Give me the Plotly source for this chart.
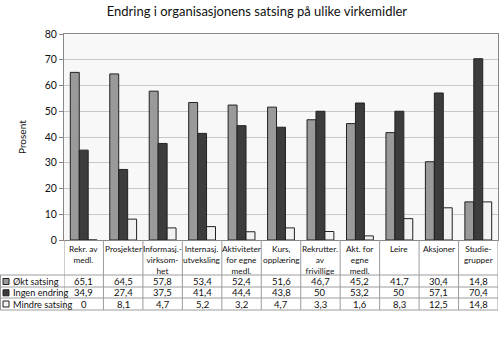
import plotly.graph_objects as go

categories = ["Rekr. av<br>medl.", "Prosjekter", "Informasj.-<br>virksom-<br>het",
              "Internasj.<br>utveksling", "Aktiviteter<br>for egne<br>medl.",
              "Kurs,<br>opplæring", "Rekrutter.<br>av<br>frivillige",
              "Akt. for<br>egne<br>medl.", "Leire", "Aksjoner", "Studie-<br>grupper"]
series_names = ["Økt satsing", "Ingen endring", "Mindre satsing"]
okt = [65.1, 64.5, 57.8, 53.4, 52.4, 51.6, 46.7, 45.2, 41.7, 30.4, 14.8]
ingen = [34.9, 27.4, 37.5, 41.4, 44.4, 43.8, 50, 53.2, 50, 57.1, 70.4]
mindre = [0, 8.1, 4.7, 5.2, 3.2, 4.7, 3.3, 1.6, 8.3, 12.5, 14.8]
y_ticks = [0, 10, 20, 30, 40, 50, 60, 70, 80]

series = [okt, ingen, mindre]
colors = ["#9a9a9a", "#3c3c3c", "#f2f2f2"]
FONT = "Lato"

W, H = 500, 342
L, R, T, B = 64, 2, 34, 102
pw, ph = W - L - R, H - T - B


def px(x):
    return (x - L) / pw


def py(y):
    return (H - B - y) / ph


def fmt(v):
    s = ("%g" % v)
    return s.replace(".", ",")


xs = list(range(len(categories)))
fig = go.Figure()
for name, vals, c in zip(series_names, series, colors):
    fig.add_trace(go.Bar(x=xs, y=vals, name=name, marker=dict(color=c, line=dict(color="#222", width=1)),
                         showlegend=False))

shapes = []
annotations = []
line_col = "#9c9c9c"
# table horizontal lines
for yy in [275, 287, 298, 310]:
    shapes.append(dict(type="line", xref="paper", yref="paper", x0=px(0), x1=px(W - R),
                       y0=py(yy), y1=py(yy), line=dict(color=line_col, width=1)))
# vertical lines
n = len(categories)
for i in range(n + 1):
    shapes.append(dict(type="line", xref="x", yref="paper", x0=i - 0.5, x1=i - 0.5,
                       y0=py(240), y1=py(310), line=dict(color=line_col, width=1)))
shapes.append(dict(type="line", xref="paper", yref="paper", x0=px(0.5), x1=px(0.5),
                   y0=py(275), y1=py(310), line=dict(color=line_col, width=1)))

# header labels
for i, cat in enumerate(categories):
    annotations.append(dict(x=i, y=py(242), xref="x", yref="paper", text=cat, showarrow=False,
                            yanchor="top", xanchor="center",
                            font=dict(size=8.3, color="#111", family=FONT)))

row_centers = [281.5, 292.8, 304]
for r, (name, vals, c) in enumerate(zip(series_names, series, colors)):
    yc = row_centers[r]
    shapes.append(dict(type="rect", xref="paper", yref="paper", x0=px(3), x1=px(9),
                       y0=py(yc + 3), y1=py(yc - 3), fillcolor=c, line=dict(color="#222", width=1)))
    annotations.append(dict(x=px(10.5), y=py(yc), xref="paper", yref="paper", text=name, showarrow=False,
                            xanchor="left", yanchor="middle", font=dict(size=9.2, color="#111", family=FONT)))
    for i, v in enumerate(vals):
        annotations.append(dict(x=i, y=py(yc), xref="x", yref="paper", text=fmt(v), showarrow=False,
                                xanchor="center", yanchor="middle", font=dict(size=9.5, color="#111", family=FONT)))

annotations.append(dict(x=px(14), y=py(137), xref="paper", yref="paper", text="Prosent", textangle=-90,
                        showarrow=False, font=dict(size=10, color="#111", family=FONT)))

fig.update_layout(
    width=W, height=H,
    margin=dict(l=L, r=R, t=T, b=B),
    paper_bgcolor="white", plot_bgcolor="#f8f8f8",
    barmode="group", bargap=0.32, bargroupgap=0,
    title=dict(text="Endring i organisasjonens satsing på ulike virkemidler", x=px(287), xanchor="center",
               y=1 - 11 / H, yanchor="middle", font=dict(size=13, color="#111", family=FONT)),
    xaxis=dict(range=[-0.5, n - 0.5], showticklabels=False, showgrid=False, zeroline=False,
               showline=True, linecolor="#888", mirror=True, ticks=""),
    yaxis=dict(range=[0, 80], tickvals=y_ticks, showgrid=True, gridcolor="#c8c8c8", gridwidth=1,
               zeroline=False, showline=True, linecolor="#888", mirror=True, ticks="outside", ticklen=4,
               tickcolor="#888", tickfont=dict(size=10.5, color="#111", family=FONT)),
    shapes=shapes, annotations=annotations,
    font=dict(family=FONT),
)
fig.write_html("out.html")
